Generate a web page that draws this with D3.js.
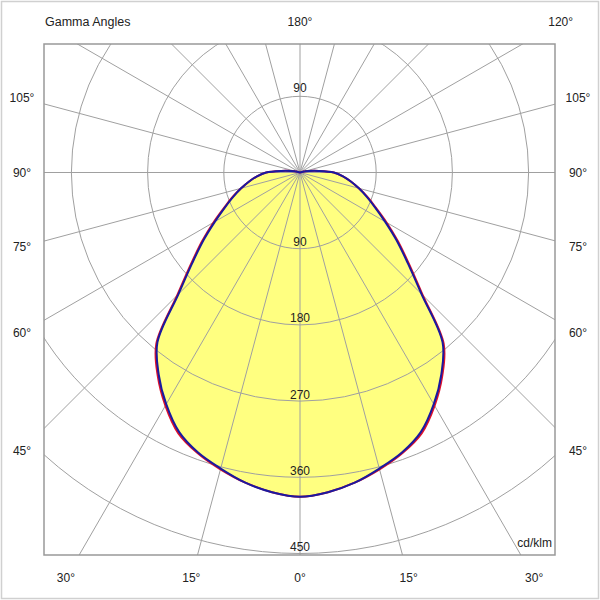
<!DOCTYPE html>
<html>
<head>
<meta charset="utf-8">
<script src="https://cdn.jsdelivr.net/npm/d3@7"></script>
<style>
  html, body { margin: 0; padding: 0; background: #fff; }
  svg { display: block; }
  text { font-family: Arial, "Liberation Sans", sans-serif; fill: #222; }
</style>
</head>
<body>
<svg id="chart" width="600" height="600"></svg>
<script>
// ---- data ----
const gammaAngles = [0, 5, 10, 15, 20, 25, 30, 35, 40, 45, 50, 55, 60, 65, 70, 75, 80, 85, 90, 95, 100, 105];
// C90-C270 plane (blue)
const intensityBlue = [383, 379, 372, 362, 352, 338, 316, 291, 262, 203, 166, 139, 116, 98, 84, 72, 61, 51, 40, 22, 11, 6];
// C0-C180 plane (red)
const intensityRed  = [383, 379, 372, 363, 353, 340, 318, 293, 264, 205, 168, 141, 118, 99, 85, 72, 61, 51, 40, 22, 11, 6];
const ringValues = [90, 180, 270, 360, 450];
const ringLabelsBelow = ["90", "180", "270", "360", "450"];
const ringLabelsAbove = ["90"];
const gridAngles = d3.range(0, 360, 15);
const sideLabels = [105, 90, 75, 60, 45];
const bottomLabels = [30, 15, 0, 15, 30];
const bottomSigns = [-1, -1, 0, 1, 1];
const titleText = "Gamma Angles";
const unitText = "cd/klm";

// ---- layout ----
const svg = d3.select("#chart");
const W = 600, H = 600;
const box = { x0: 44, y0: 44, x1: 555, y1: 555 };
const cx = 300, cy = 172.5;
const rScale = d3.scaleLinear().domain([0, 450]).range([0, 381]);
const rad = d => d * Math.PI / 180;

// outer frame
svg.append("rect").attr("x", 1.5).attr("y", 1.5).attr("width", W - 3).attr("height", H - 3)
  .attr("fill", "none").attr("stroke", "#d0d0d0").attr("stroke-width", 1.5);

svg.append("clipPath").attr("id", "clip").append("rect")
  .attr("x", box.x0).attr("y", box.y0).attr("width", box.x1 - box.x0).attr("height", box.y1 - box.y0);

const plot = svg.append("g").attr("clip-path", "url(#clip)");
const g = plot.append("g").attr("transform", `translate(${cx},${cy})`);

function buildPoints(vals) {
  const left = gammaAngles.map((a, i) => ({ a: Math.PI + rad(a), r: vals[i] })).reverse();
  const right = gammaAngles.map((a, i) => ({ a: Math.PI - rad(a), r: vals[i] })).slice(1);
  return left.concat(right);
}
const bluePts = buildPoints(intensityBlue);
const redPts = buildPoints(intensityRed);

// fill: smooth outline plus straight closing to the origin
const line = d3.lineRadial().angle(d => d.a).radius(d => rScale(d.r))
  .curve(d3.curveCatmullRom.alpha(0.5));
const stub = d3.lineRadial().angle(d => d.a).radius(d => rScale(d.r));
const fillPts = bluePts.map((d, i) => ({ a: d.a, r: Math.max(d.r, redPts[i].r) }));
const closing = stub([fillPts[fillPts.length - 1], { a: 0, r: 0 }, fillPts[0]]).replace(/^M/, "L");
g.append("path").attr("d", line(fillPts) + closing + "Z")
  .attr("fill", "#ffff80").attr("stroke", "none");

// grid rings
g.selectAll("circle.ring").data(ringValues).join("circle")
  .attr("class", "ring").attr("r", d => rScale(d))
  .attr("fill", "none").attr("stroke", "#a0a0a0").attr("stroke-width", 1);

// radial lines
g.selectAll("line.spoke").data(gridAngles).join("line")
  .attr("class", "spoke")
  .attr("x1", 0).attr("y1", 0)
  .attr("x2", d => Math.sin(rad(d)) * rScale(900))
  .attr("y2", d => -Math.cos(rad(d)) * rScale(900))
  .attr("stroke", "#a0a0a0").attr("stroke-width", 1);

// curves
function drawCurve(pts, color) {
  g.append("path").datum(pts).attr("d", line)
    .attr("fill", "none").attr("stroke", color).attr("stroke-width", 2);
  const first = pts[0], last = pts[pts.length - 1];
  g.append("path").datum([first, { a: 0, r: 0 }, last]).attr("d", stub)
    .attr("fill", "none").attr("stroke", color).attr("stroke-width", 2);
}
drawCurve(redPts, "#e0102a");
drawCurve(bluePts, "#1a1aa0");

// ring labels
g.selectAll("text.rlb").data(ringValues).join("text")
  .attr("class", "rlb").attr("x", 0).attr("y", (d) => rScale(d) - 2.5)
  .attr("text-anchor", "middle").attr("font-size", 12)
  .text((d, i) => ringLabelsBelow[i]);
g.selectAll("text.rla").data(ringValues.slice(0, ringLabelsAbove.length)).join("text")
  .attr("class", "rla").attr("x", 0).attr("y", d => -rScale(d) - 4)
  .attr("text-anchor", "middle").attr("font-size", 12)
  .text((d, i) => ringLabelsAbove[i]);

// plot box
svg.append("rect").attr("x", box.x0).attr("y", box.y0)
  .attr("width", box.x1 - box.x0).attr("height", box.y1 - box.y0)
  .attr("fill", "none").attr("stroke", "#999").attr("stroke-width", 1.5);

// side labels
const sideDx = 278;
sideLabels.forEach(a => {
  const y = cy + sideDx * Math.tan(rad(90 - a)) + 4;
  [-1, 1].forEach(s => {
    svg.append("text").attr("x", cx + s * sideDx).attr("y", y)
      .attr("text-anchor", "middle").attr("font-size", 12).text(a + "°");
  });
});

// bottom labels
const botY = 578;
bottomLabels.forEach((a, i) => {
  const x = cx + bottomSigns[i] * (botY - cy) * Math.tan(rad(a));
  svg.append("text").attr("x", x).attr("y", botY + 4)
    .attr("text-anchor", "middle").attr("font-size", 12).text(a + "°");
});

// top labels
const topY = 22;
svg.append("text").attr("x", cx).attr("y", topY + 4)
  .attr("text-anchor", "middle").attr("font-size", 12).text("180°");
svg.append("text").attr("x", cx + (cy - topY) / Math.tan(rad(30))).attr("y", topY + 4)
  .attr("text-anchor", "middle").attr("font-size", 12).text("120°");
svg.append("text").attr("x", 45).attr("y", topY + 4)
  .attr("text-anchor", "start").attr("font-size", 12.5).text(titleText);

// unit
svg.append("text").attr("x", box.x1 - 3).attr("y", box.y1 - 8)
  .attr("text-anchor", "end").attr("font-size", 12).text(unitText);
</script>
</body>
</html>
